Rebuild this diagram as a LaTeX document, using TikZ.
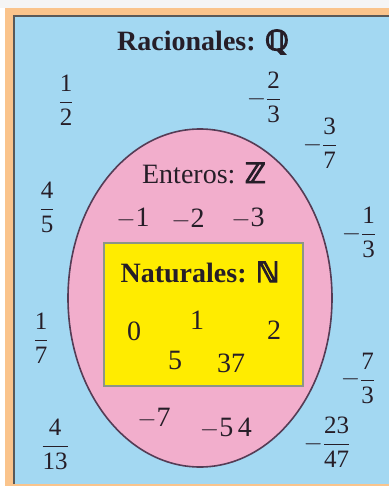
\documentclass[tikz,border=0pt]{standalone}
\usepackage{fontspec}
\setmainfont{Liberation Serif}
\newfontfamily\setfont[FakeBold=3.5]{DejaVu Sans Bold}
\usetikzlibrary{positioning}

\definecolor{ratblue}{RGB}{163,216,242}
\definecolor{intpink}{RGB}{242,174,204}
\definecolor{natyellow}{RGB}{255,236,0}
\definecolor{framebg}{RGB}{250,196,140}
\definecolor{inkdark}{RGB}{38,30,40}
\definecolor{egdraw}{RGB}{85,60,85}
\definecolor{boxdraw}{RGB}{140,150,135}

\newcommand{\fr}[2]{$\displaystyle\frac{\mbox{#1}}{\mbox{#2}}$}
\newcommand{\nfr}[2]{$\displaystyle-\frac{\mbox{#1}}{\mbox{#2}}$}

\begin{document}
\begin{tikzpicture}[x=1pt, y=-1pt,
        title/.style = {font=\fontsize{28}{32}\selectfont, text=inkdark, inner sep=0pt},
        num/.style = {font=\fontsize{28}{32}\selectfont, text=inkdark, inner sep=0pt},
        frac/.style = {font=\fontsize{25}{30}\selectfont, text=inkdark, inner sep=0pt}
    ]
        \useasboundingbox (0,0) rectangle (389,486);

        % Frame and background
        \fill[gray!8] (0,0) rectangle (389,8);
        \fill[framebg] (5,8) rectangle (389,486);
        \fill[ratblue] (14,16) rectangle (389,484);
        \draw[black!65, line width=2pt] (14,484) -- (14,16) -- (389,16);

        % Sets
        \draw[draw=egdraw, line width=1.6pt, fill=intpink] (200,298) ellipse [x radius=132, y radius=169];
        \draw[draw=boxdraw, line width=2pt, fill=natyellow] (104,243) rectangle (303,386);

        % Racionales
        \node[title] (tQ) at (203,42) {\bfseries Racionales: {\setfont ℚ}};
        \node[frac] (q1) at (66,100) {\fr{1}{2}};
        \node[frac] (q2) at (264,97) {\nfr{2}{3}};
        \node[frac] (q3) at (320,143) {\nfr{3}{7}};
        \node[frac] (q4) at (47,207) {\fr{4}{5}};
        \node[frac] (q5) at (359,232) {\nfr{1}{3}};
        \node[frac] (q6) at (41,338) {\fr{1}{7}};
        \node[frac] (q7) at (358,378) {\nfr{7}{3}};
        \node[frac] (q8) at (55,444) {\fr{4}{13}};
        \node[frac] (q9) at (327,442) {\nfr{23}{47}};

        % Enteros
        \node[title] (tZ) at (204,173) {Enteros: {\setfont ℤ}};
        \node[num] (z1) at (133,218) {$-$1};
        \node[num] (z2) at (188,219) {$-$2};
        \node[num] (z3) at (248,218) {$-$3};
        \node[num] (z4) at (154,418) {$-$7};
        \node[num] (z5) at (226,428) {$-$5\,4};

        % Naturales
        \node[title] (tN) at (200,272) {\bfseries Naturales: {\setfont ℕ}};
        \node[num] (n1) at (197,320) {1};
        \node[num] (n0) at (134,331) {0};
        \node[num] (n2) at (274,330) {2};
        \node[num] (n5) at (175,360) {5};
        \node[num] (n6) at (231,363) {37};

    \end{tikzpicture}
\end{document}
